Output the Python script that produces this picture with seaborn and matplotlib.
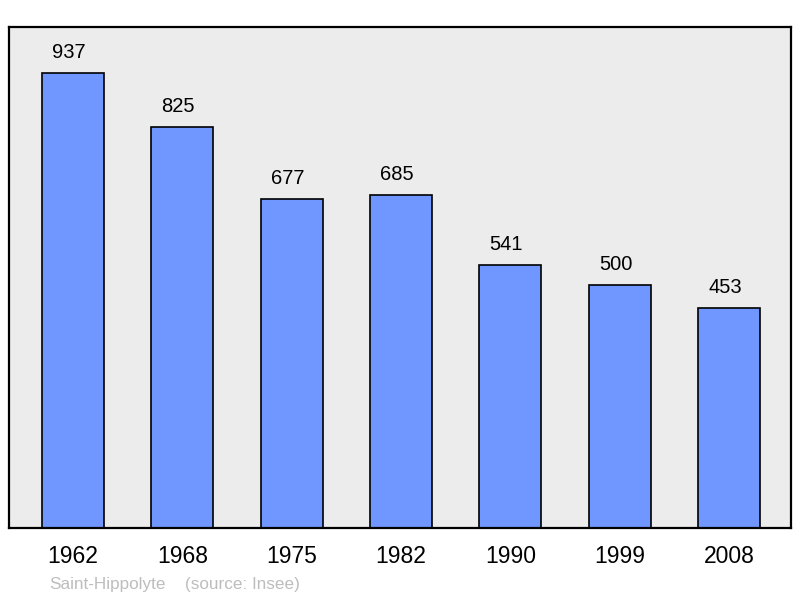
import matplotlib
matplotlib.use("Agg")
import matplotlib.pyplot as plt
import seaborn as sns

# --- DATI ---
years = ["1962", "1968", "1975", "1982", "1990", "1999", "2008"]
population = [937, 825, 677, 685, 541, 500, 453]
place = "Saint-Hippolyte"
source = "(source: Insee)"

BAR_COLOR = "#7096ff"
BG_COLOR = "#ececec"

sns.set_style("white")
plt.rcParams["font.family"] = ["Liberation Sans", "DejaVu Sans"]

fig = plt.figure(figsize=(8, 5.98), dpi=100)
ax = fig.add_axes([9 / 800, 70 / 598, 782 / 800, 501 / 598])
ax.set_facecolor(BG_COLOR)

sns.barplot(x=years, y=population, color=BAR_COLOR, saturation=1,
            edgecolor="black", linewidth=1.2, width=0.567, ax=ax)

# etichette sopra le barre
for i, v in enumerate(population):
    ax.annotate(str(v), (i, v), xytext=(-3, 8), textcoords="offset points",
                ha="center", va="bottom", fontsize=14.5, color="black")

ax.set_xlim(-0.585, 6.567)
ax.set_ylim(0, 1032)
ax.set_yticks([])
ax.tick_params(axis="x", length=0, pad=12, labelsize=16.5, labelcolor="black")
for s in ax.spines.values():
    s.set_visible(True)
    s.set_color("black")
    s.set_linewidth(1.6)

fig.text(49 / 800, 13 / 598, place, fontsize=12.3, color="#bdbdbd", va="center")
fig.text(185 / 800, 13 / 598, source, fontsize=12.3, color="#bdbdbd", va="center")

fig.savefig("out.png", dpi=100)
